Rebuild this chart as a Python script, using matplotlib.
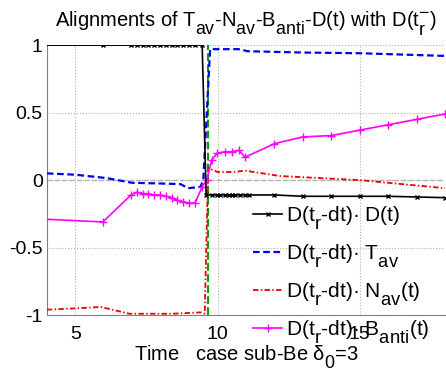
import numpy as np
import matplotlib
matplotlib.use('Agg')
import matplotlib.pyplot as plt
import matplotlib._mathtext as mtx

plt.rcParams['font.family'] = ['Liberation Sans', 'DejaVu Sans']
plt.rcParams['mathtext.fontset'] = 'custom'
plt.rcParams['mathtext.rm'] = 'Liberation Sans'
plt.rcParams['mathtext.it'] = 'Liberation Sans'
plt.rcParams['font.size'] = 14

# MATLAB-style sub/superscripts: nearly full size and lower
mtx.SHRINK_FACTOR = 0.88
mtx.FontConstantsBase.sub1 = 0.8
mtx.FontConstantsBase.sub2 = 0.9

# D(t_r-dt).D(t)
t_d = [4.0, 5.97, 6.96, 7.17, 7.38, 7.56, 7.77, 7.98, 8.19, 8.40, 8.58, 8.79, 9.00, 9.21, 9.46,
       9.60, 9.80, 9.99, 10.10, 10.27, 10.40, 10.50, 10.60, 10.80, 10.97, 11.10,
       12.0, 13.0, 14.0, 15.0, 16.0, 17.0, 18.0]
y_d = [1.0, 1.0, 1.0, 1.0, 1.0, 1.0, 1.0, 1.0, 1.0, 1.0, 1.0, 1.0, 1.0, 1.0, 1.0,
       -0.11, -0.11, -0.11, -0.11, -0.11, -0.11, -0.11, -0.11, -0.11, -0.11, -0.11,
       -0.11, -0.12, -0.12, -0.12, -0.12, -0.125, -0.13]

# D(t_r-dt).T_av
t_t = [4.0, 5.0, 6.1, 7.0, 8.0, 8.7, 8.97, 9.4, 9.5, 9.74, 10.8, 11.04, 13.0, 15.0, 18.0]
y_t = [0.05, 0.04, 0.015, -0.02, -0.025, -0.03, -0.06, -0.05, 0.0, 0.97, 0.97, 0.955, 0.945, 0.94, 0.92]

# D(t_r-dt).N_av(t)
t_n = [4.0, 5.0, 5.9, 6.9, 8.4, 9.4, 9.55, 9.67, 10.0, 10.55, 10.97, 12.2, 15.0, 18.0]
y_n = [-0.96, -0.95, -0.94, -0.99, -0.99, -0.98, -0.99, 0.09, 0.06, 0.06, 0.07, 0.03, 0.0, -0.06]

# D(t_r-dt).B_anti(t)
t_b = [4.0, 5.97, 6.96, 7.17, 7.38, 7.56, 7.77, 7.98, 8.19, 8.40, 8.58, 8.79, 9.00, 9.21, 9.46,
       9.62, 9.80, 9.99, 10.27, 10.50, 10.75, 10.97, 12.0, 13.0, 14.0, 15.0, 16.0, 17.0, 18.0]
y_b = [-0.29, -0.31, -0.11, -0.09, -0.10, -0.10, -0.11, -0.11, -0.12, -0.13, -0.15, -0.16, -0.17, -0.17, -0.05,
       0.0, 0.15, 0.20, 0.21, 0.21, 0.22, 0.17, 0.27, 0.32, 0.33, 0.37, 0.41, 0.45, 0.49]

t_switch = 9.67

fig = plt.figure(figsize=(4.46, 3.76), dpi=100)
ax = fig.add_axes([0.105, 0.162, 0.893, 0.718])

ax.axhline(0, color='#b4b4b4', ls='--', lw=1.0, zorder=1)
ax.axvline(t_switch, color='#00a000', ls='--', lw=1.5, zorder=2)

ax.plot(t_d, y_d, '-', color='k', marker='x', ms=3.5, mew=1.0, lw=1.2, markevery=slice(1, None),
        label=r'D(t$_\mathregular{r}$-dt)· D(t)', zorder=5)
ax.plot(t_t, y_t, '--', color='#0000ee', lw=1.6, dashes=(3, 1.6),
        label=r'D(t$_\mathregular{r}$-dt)· T$_\mathregular{av}$', zorder=4)
ax.plot(t_n, y_n, '-.', color='#ee0000', lw=1.3, dashes=(3, 1.3, 0.8, 1.3),
        label=r'D(t$_\mathregular{r}$-dt)· N$_\mathregular{av}$(t)', zorder=3)
ax.plot(t_b, y_b, '-', color='#ff00ff', marker='+', ms=6, mew=1.0, lw=1.2, markevery=slice(1, None),
        label=r'D(t$_\mathregular{r}$-dt)· B$_\mathregular{anti}$(t)', zorder=4)

ax.set_xlim(4, 18)
ax.set_ylim(-1, 1)
ax.set_xticks([5, 10, 15])
ax.set_yticks([-1, -0.5, 0, 0.5, 1])
ax.set_yticklabels(['-1', '-0.5', '0', '0.5', '1'])
ax.grid(True, color='#b0b0b0', ls=':', lw=0.8)
ax.set_axisbelow(True)
for s in ['top', 'right']:
    ax.spines[s].set_visible(False)
for s in ['left', 'bottom']:
    ax.spines[s].set_color('#808080')
ax.tick_params(direction='in', length=0, colors='k', labelsize=14)
ax.tick_params(axis='x', pad=8)
ax.tick_params(axis='y', pad=3)

ax.set_title(r'Alignments of T$_\mathregular{av}$-N$_\mathregular{av}$-B$_\mathregular{anti}$-D(t) with D(t$_\mathregular{r}^\mathregular{-}$)',
             fontsize=14.5, pad=14)
ax.set_xlabel(r'Time   case sub-Be $\mathregular{\delta}_\mathregular{0}$=3', fontsize=14.5, labelpad=0)

leg = ax.legend(loc='upper left', bbox_to_anchor=(253 / 446, 1 - 204 / 376), bbox_transform=fig.transFigure,
                frameon=False, handlelength=1.4, handletextpad=0.2, labelspacing=0.5, fontsize=15,
                borderaxespad=0, borderpad=0)

fig.savefig('out.png', dpi=100)
